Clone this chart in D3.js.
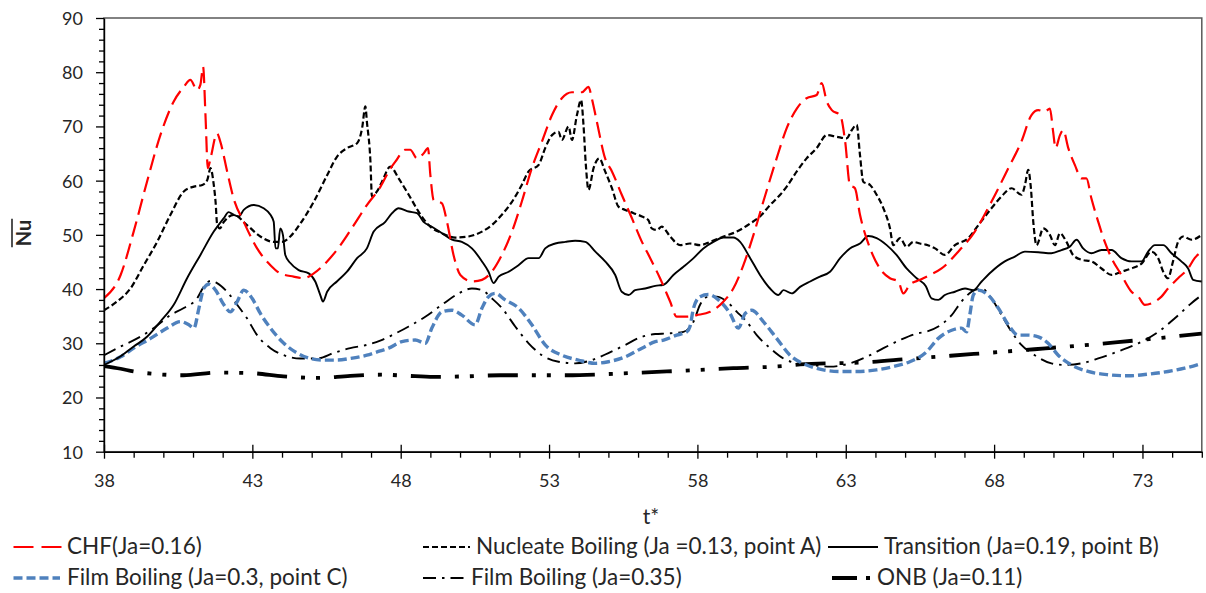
<!DOCTYPE html>
<html><head><meta charset="utf-8">
<script src="https://cdn.jsdelivr.net/npm/d3@7"></script>
<style>
body{margin:0;background:#fff;}
svg{display:block;font-family:Lato,"Open Sans",sans-serif;}
</style></head><body>
<svg id="chart" width="1206" height="593"></svg>
<script>
// ---------------- DATA ----------------
const xTicks = [38, 43, 48, 53, 58, 63, 68, 73];
const yTicks = [10, 20, 30, 40, 50, 60, 70, 80, 90];
const xLabel = "t*";
const yLabel = "Nu";

const seriesNames = [
  "CHF(Ja=0.16)",
  "Nucleate Boiling (Ja =0.13, point A)",
  "Transition (Ja=0.19, point B)",
  "Film Boiling (Ja=0.3, point C)",
  "Film Boiling (Ja=0.35)",
  "ONB (Ja=0.11)"
];

const tCHF = [38,38.56,39.0,39.45,39.9,40.35,40.69,40.91,41.14,41.25,41.34,41.42,41.5,41.59,41.81,41.92,42.15,42.37,42.71,43.16,43.61,43.94,44.39,44.73,45.07,45.52,45.97,46.42,46.86,47.31,47.65,47.82,48.16,48.32,48.55,48.77,48.92,49.0,49.11,49.39,49.56,49.78,50.01,50.4,50.74,51.07,51.41,51.75,52.08,52.42,52.76,53.1,53.43,53.77,54.11,54.33,54.44,54.61,54.89,55.12,55.45,55.79,56.13,56.41,56.74,57.08,57.3,57.64,57.98,58.43,58.88,59.21,59.55,59.89,60.22,60.67,61.01,61.35,61.68,62.02,62.19,62.36,62.53,62.81,62.98,63.14,63.31,63.48,63.82,64.15,64.49,64.77,64.94,65.16,65.5,65.84,66.23,66.79,67.35,67.91,68.48,68.92,69.26,69.49,69.71,69.88,69.99,70.07,70.22,70.33,70.5,70.72,70.95,71.11,71.28,71.51,71.73,71.96,72.29,72.63,72.86,73.08,73.42,73.64,73.86,74.2,74.54,74.76,75.0];
const nuCHF = [38.3,42.6,50.6,59.8,68.4,74.6,77.3,78.6,76.7,77.7,81.0,72.1,62.3,64.1,68.7,67.2,61.7,56.7,52.4,47.5,44.4,42.9,42.3,42.0,42.9,45.1,48.1,51.8,55.5,58.8,62.2,63.5,65.7,65.7,64.1,65.0,66.0,61.0,56.4,55.8,52.4,46.3,42.6,41.4,41.7,43.2,46.3,50.6,56.1,62.3,67.2,72.1,75.2,76.3,76.3,77.3,75.2,70.9,64.1,61.7,57.4,53.1,48.7,45.7,42.0,37.7,34.9,34.9,35.2,35.8,37.7,40.1,44.4,50.0,56.1,64.1,69.7,73.3,75.2,75.8,78.0,74.6,73.0,72.1,67.2,59.2,58.6,53.7,47.5,43.8,42.0,41.4,39.2,40.8,41.7,42.6,43.8,46.9,50.6,56.1,62.3,67.2,72.1,73.0,72.7,73.3,69.0,66.0,68.4,69.3,66.0,62.9,60.4,60.4,56.7,52.4,48.7,45.7,42.6,39.5,38.6,37.1,37.7,38.6,40.1,42.0,43.8,45.7,46.9];

const tNB = [38,38.44,38.89,39.34,39.79,40.24,40.69,41.03,41.31,41.48,41.59,41.7,41.76,41.81,41.9,42.04,42.37,42.82,43.27,43.72,44.0,44.28,44.62,45.07,45.52,45.85,46.19,46.53,46.7,46.81,46.86,46.98,47.03,47.2,47.37,47.65,47.93,48.27,48.6,48.94,49.39,49.84,50.29,50.74,51.07,51.41,51.75,52.08,52.31,52.65,52.87,53.1,53.32,53.43,53.66,53.77,53.94,54.08,54.16,54.24,54.33,54.5,54.69,54.89,55.12,55.34,55.57,55.85,56.13,56.35,56.46,56.63,56.8,57.08,57.42,57.75,58.09,58.43,58.88,59.33,59.78,60.11,60.45,60.79,61.01,61.35,61.68,62.02,62.36,62.69,63.03,63.2,63.37,63.48,63.59,63.82,64.04,64.27,64.49,64.6,64.83,65.05,65.28,65.5,65.7,66.01,66.34,66.68,67.13,67.47,67.91,68.25,68.59,68.92,69.04,69.15,69.24,69.32,69.43,69.66,69.88,70.05,70.22,70.44,70.66,70.95,71.28,71.62,71.96,72.29,72.63,72.97,73.3,73.53,73.7,73.86,74.03,74.2,74.37,74.65,75.0];
const nuNB = [36.1,37.7,40.1,44.4,48.7,53.7,58.0,58.9,59.2,60.1,62.3,59.2,56.1,52.1,51.2,52.4,53.7,51.8,49.7,48.7,48.7,49.7,52.1,56.1,61.0,64.4,66.0,66.9,69.7,73.7,70.9,63.5,57.1,58.0,59.8,62.6,60.4,57.4,54.3,51.8,50.3,49.5,49.7,50.6,51.8,53.7,56.1,59.2,61.7,62.9,66.0,68.4,69.0,67.5,70.0,67.5,72.1,74.9,70.3,62.9,58.3,62.3,64.1,61.7,58.6,55.2,54.6,54.0,53.4,52.7,51.2,50.9,51.5,49.7,48.1,48.4,48.1,48.7,49.7,50.6,52.1,53.4,55.5,57.4,58.9,61.7,64.1,66.0,68.4,68.1,67.8,69.3,70.3,64.7,59.8,59.2,57.4,54.9,51.2,48.1,49.4,47.8,48.7,48.4,48.2,47.5,46.3,48.1,49.4,51.8,54.9,57.1,58.6,57.4,59.2,62.0,58.6,52.4,48.1,51.2,50.0,48.1,50.3,48.7,46.3,45.4,45.1,43.8,42.6,43.2,43.8,44.7,46.9,45.7,43.2,42.0,45.1,48.7,49.7,49.1,50.0];

const tTR = [38,38.56,39.0,39.45,39.9,40.35,40.8,41.25,41.7,42.04,42.2,42.37,42.54,42.71,43.05,43.38,43.61,43.72,43.78,43.86,43.94,44.03,44.11,44.28,44.56,44.9,45.12,45.29,45.38,45.52,45.85,46.19,46.53,46.86,47.09,47.48,47.71,47.93,48.27,48.55,48.77,49.05,49.39,49.73,50.06,50.4,50.74,50.96,51.13,51.3,51.64,51.97,52.31,52.65,52.87,53.21,53.55,53.88,54.22,54.56,54.89,55.23,55.45,55.68,55.9,56.24,56.58,56.86,57.19,57.53,57.87,58.2,58.54,58.88,59.21,59.44,59.78,60.11,60.45,60.73,60.9,61.18,61.46,61.8,62.13,62.47,62.81,63.14,63.48,63.76,64.04,64.38,64.71,65.05,65.39,65.7,65.89,66.12,66.34,66.68,67.02,67.3,67.58,67.91,68.36,68.7,69.04,69.49,69.93,70.27,70.55,70.78,71.0,71.28,71.62,71.96,72.29,72.63,72.97,73.19,73.42,73.7,73.98,74.31,74.54,74.71,75.0];
const nuTR = [26.0,27.6,29.4,31.2,34.0,37.1,42.0,46.3,50.6,53.1,54.2,53.7,53.4,54.6,55.5,54.9,53.7,52.4,47.5,47.5,51.2,50.0,46.3,44.8,43.5,42.9,41.4,38.9,37.7,39.5,41.4,43.2,45.7,47.5,50.6,52.4,54.0,54.9,54.3,54.0,52.4,51.5,50.3,49.1,48.7,47.5,45.1,43.2,41.1,42.3,43.2,44.4,45.7,45.7,47.5,48.4,48.7,48.9,48.7,46.9,45.1,42.6,39.5,38.9,39.8,40.1,40.6,40.8,42.6,44.1,45.7,47.5,48.7,49.5,49.5,48.7,45.7,42.6,40.1,38.9,39.8,39.2,40.4,41.4,42.3,43.2,45.7,47.5,48.4,49.8,49.4,48.1,46.3,43.8,42.0,40.5,38.3,38.0,38.9,39.5,40.1,39.8,41.4,43.2,45.1,46.0,46.9,46.8,46.6,47.2,47.8,49.1,47.5,46.6,47.2,47.2,45.7,45.1,45.1,46.9,48.1,48.1,46.6,45.1,43.8,41.7,41.4];

const tFB3 = [38,38.56,39.0,39.57,40.13,40.58,40.86,41.03,41.2,41.36,41.53,41.76,42.04,42.26,42.49,42.71,42.99,43.27,43.61,44.06,44.51,44.95,45.4,45.85,46.3,46.86,47.31,47.59,48.04,48.49,48.83,49.05,49.39,49.73,50.06,50.51,50.74,50.96,51.19,51.52,51.97,52.42,52.87,53.43,53.99,54.56,55.0,55.57,56.13,56.58,56.86,57.3,57.64,57.75,57.87,58.09,58.37,58.71,59.1,59.38,59.61,59.83,60.22,60.67,61.12,61.68,62.24,62.81,63.37,64.04,64.6,65.16,65.7,66.12,66.57,66.9,67.07,67.18,67.3,67.47,67.8,68.14,68.48,68.81,69.15,69.49,69.82,70.16,70.61,71.17,71.84,72.52,73.19,73.86,74.42,75.0];
const nuFB3 = [26.3,27.5,29.1,30.9,32.8,34.0,33.4,32.8,36.5,40.1,40.9,39.8,37.1,35.8,37.7,39.8,38.3,35.5,32.8,30.0,28.2,27.2,26.9,26.9,27.2,27.8,28.6,29.1,30.3,30.6,30.0,32.8,35.8,36.1,35.2,33.4,36.5,38.6,39.2,38.0,36.5,33.4,29.7,27.8,26.9,26.3,26.6,27.5,29.1,30.3,30.6,31.5,32.1,33.1,36.5,38.6,39.0,38.0,35.5,32.8,35.5,36.1,34.0,30.9,27.8,26.0,25.1,24.8,24.8,25.1,25.7,26.6,28.3,30.9,32.4,32.8,32.1,35.2,38.9,39.8,38.9,36.5,33.4,31.5,31.5,31.2,30.0,27.8,26.0,24.8,24.2,24.0,24.3,24.8,25.4,26.3];

const tFB35 = [38,38.56,39.12,39.68,40.24,40.69,41.14,41.36,41.59,41.81,42.15,42.49,42.82,43.16,43.61,44.06,44.62,45.18,45.74,46.3,46.86,47.31,47.71,48.27,48.83,49.39,49.95,50.4,50.74,51.07,51.41,51.86,52.31,52.76,53.32,53.88,54.44,55.0,55.57,56.13,56.58,56.97,57.53,57.87,58.09,58.37,58.65,58.99,59.33,59.66,60.0,60.45,60.9,61.35,61.8,62.47,63.14,63.7,64.27,64.83,65.39,65.75,66.12,66.57,66.9,67.24,67.58,67.91,68.25,68.59,68.92,69.37,69.93,70.38,70.95,71.51,72.18,72.86,73.53,74.09,74.65,75.0];
const nuFB35 = [27.8,29.4,30.9,32.8,35.2,36.5,38.3,40.4,41.5,41.1,39.5,37.1,34.6,31.5,29.1,27.8,27.2,27.2,28.2,29.1,29.7,30.5,31.5,33.1,34.9,37.1,39.2,40.1,39.8,38.3,36.5,33.1,30.0,27.8,26.6,26.3,26.9,28.2,29.7,31.2,31.7,31.8,32.1,34.0,37.1,38.6,38.6,37.7,35.8,34.0,31.5,29.1,27.2,26.3,26.0,25.7,26.3,27.5,29.1,30.6,31.8,32.2,33.1,35.2,37.7,39.5,40.1,38.3,35.2,32.1,29.7,27.8,26.3,26.0,26.3,27.2,28.5,30.0,32.1,34.6,37.4,38.9];

const tONB = [38,38.56,39.0,39.6,40.68,41.81,42.93,44.05,45.18,46.3,47.42,48.21,49.11,50.2,51.35,52.5,53.6,55.3,56.97,59.21,60.9,61.46,63.7,65.1,66.53,69.36,72.17,75.0];
const nuONB = [25.8,25.3,24.8,24.4,24.1,24.6,24.5,23.9,23.6,24.0,24.2,24.0,23.8,23.9,24.1,24.1,24.1,24.4,24.8,25.4,25.8,26.1,26.5,27.1,27.7,28.9,30.2,31.8];

// ---------------- CHART ----------------
const svg = d3.select("#chart");
const X0 = 104, X1 = 1201.8, Y0 = 451.7, Y1 = 18;
const x = d3.scaleLinear().domain([38, 75]).range([X0, X1]);
const y = d3.scaleLinear().domain([10, 90]).range([Y0, Y1]);

const styles = [
  {color:"#ff0000", width:2.2, dash:"16,7"},
  {color:"#000000", width:2.2, dash:"6,3"},
  {color:"#000000", width:1.9, dash:null},
  {color:"#4f81bd", width:3.4, dash:"9,4"},
  {color:"#000000", width:1.9, dash:"13,6,2.5,6"},
  {color:"#000000", width:3.8, dash:"30,14,4,11,4,14"}
];
const tArrays = [tCHF, tNB, tTR, tFB3, tFB35, tONB];
const nuArrays = [nuCHF, nuNB, nuTR, nuFB3, nuFB35, nuONB];
const series = seriesNames.map((name, i) => ({
  name, style: styles[i],
  points: tArrays[i].map((t, k) => [t, nuArrays[i][k]])
}));

// frame (top/right)
svg.append("rect").attr("x", X0).attr("y", Y1).attr("width", X1 - X0).attr("height", Y0 - Y1)
  .attr("fill", "none").attr("stroke", "#595959").attr("stroke-width", 1.5);

svg.append("clipPath").attr("id", "clip").append("rect")
  .attr("x", X0).attr("y", Y1).attr("width", X1 - X0).attr("height", Y0 - Y1);

const line = d3.line().x(d => x(d[0])).y(d => y(d[1])).curve(d3.curveMonotoneX);
const plot = svg.append("g").attr("clip-path", "url(#clip)");
[5, 4, 3, 2, 1, 0].forEach(i => {
  const s = series[i];
  plot.append("path").datum(s.points).attr("d", line)
    .attr("fill", "none").attr("stroke", s.style.color)
    .attr("stroke-width", s.style.width)
    .attr("stroke-dasharray", s.style.dash)
    .attr("stroke-linejoin", "round");
});

// x axis minor ticks
const xMinor = d3.range(38, 76, 1).filter(v => !xTicks.includes(v) && v <= 75);
svg.append("g").attr("transform", `translate(0,${Y0})`)
  .call(d3.axisBottom(x).tickValues(xMinor).tickSize(6).tickFormat(""))
  .call(g => g.select(".domain").remove())
  .selectAll("line").attr("stroke", "#000").attr("stroke-width", 1.3);
const gx = svg.append("g").attr("transform", `translate(0,${Y0})`)
  .call(d3.axisBottom(x).tickValues(xTicks).tickSize(7).tickSizeOuter(0));
gx.select(".domain").attr("stroke", "#000").attr("stroke-width", 1.4);
gx.selectAll(".tick line").attr("y1", -7).attr("y2", 7).attr("stroke", "#000").attr("stroke-width", 1.3);
gx.selectAll(".tick text").attr("y", 35).attr("dy", 0)
  .attr("font-size", 18).attr("fill", "#262626").attr("font-family", "Lato,'Open Sans',sans-serif");

// y axis
const yMinor = d3.range(10, 91, 2).filter(v => !yTicks.includes(v));
svg.append("g").attr("transform", `translate(${X0},0)`)
  .call(d3.axisLeft(y).tickValues(yMinor).tickSize(5).tickFormat(""))
  .call(g => g.select(".domain").remove())
  .selectAll("line").attr("stroke", "#000").attr("stroke-width", 1.3);
const gy = svg.append("g").attr("transform", `translate(${X0},0)`)
  .call(d3.axisLeft(y).tickValues(yTicks).tickSize(8).tickSizeOuter(0));
gy.select(".domain").attr("stroke", "#000").attr("stroke-width", 1.4);
gy.selectAll(".tick line").attr("stroke", "#000").attr("stroke-width", 1.3);
gy.selectAll(".tick text").attr("x", -21).attr("dy", "0.36em")
  .attr("font-size", 18).attr("fill", "#262626").attr("font-family", "Lato,'Open Sans',sans-serif");

// axis labels
svg.append("text").attr("x", 651).attr("y", 524).attr("text-anchor", "middle")
  .attr("font-size", 21).attr("fill", "#262626").text(xLabel);
const yl = svg.append("text").attr("transform", "translate(31,233) rotate(-90)")
  .attr("text-anchor", "middle").attr("font-size", 20).attr("font-weight", "bold")
  .attr("fill", "#262626").text(yLabel);
const ylw = yl.node().getComputedTextLength();
svg.append("line").attr("x1", 12).attr("x2", 12)
  .attr("y1", 233 - ylw / 2 - 1).attr("y2", 233 + ylw / 2 + 1)
  .attr("stroke", "#262626").attr("stroke-width", 1.6);

// legend
const legendLayout = [
  {lx:[13.5, 62], tx:67, ty:554},
  {lx:[423, 470], tx:476, ty:554},
  {lx:[828, 878], tx:884, ty:554},
  {lx:[13.5, 60], tx:67, ty:585},
  {lx:[423, 466], tx:471, ty:585},
  {lx:[832, 872], tx:877, ty:585}
];
const lg = svg.append("g");
series.forEach((s, i) => {
  const L = legendLayout[i];
  lg.append("line").attr("x1", L.lx[0]).attr("x2", L.lx[1])
    .attr("y1", L.ty - 7).attr("y2", L.ty - 7)
    .attr("stroke", s.style.color).attr("stroke-width", s.style.width)
    .attr("stroke-dasharray", i === 5 ? "25,9,4,20" : (i === 0 ? "20,8" : s.style.dash));
  lg.append("text").attr("x", L.tx).attr("y", L.ty).attr("font-size", 22.5)
    .attr("fill", "#262626").text(s.name);
});
</script>
</body></html>
